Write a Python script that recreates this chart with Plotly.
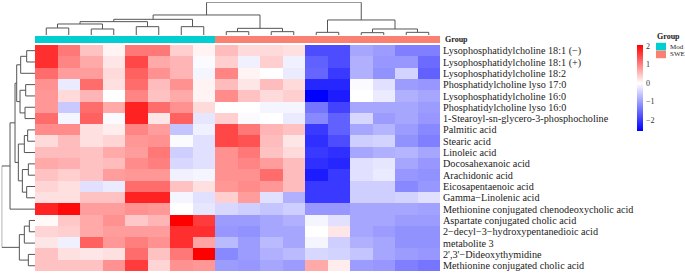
import plotly.graph_objects as go

# ---------------- data ----------------
row_labels = [
    "Lysophosphatidylcholine 18:1 (−)",
    "Lysophosphatidylcholine 18:1 (+)",
    "Lysophosphatidylcholine 18:2",
    "Phosphatidylcholine lyso 17:0",
    "Lysophosphatidylcholine 16:0",
    "Phosphatidylcholine lyso 16:0",
    "1-Stearoyl-sn-glycero-3-phosphocholine",
    "Palmitic acid",
    "Stearic acid",
    "Linoleic acid",
    "Docosahexanoic acid",
    "Arachidonic acid",
    "Eicosapentaenoic acid",
    "Gamma−Linolenic acid",
    "Methionine conjugated chenodeoxycholic acid",
    "Aspartate conjugated cholic acid",
    "2−decyl−3−hydroxypentanedioic acid",
    "metabolite 3",
    "2',3'−Dideoxythymidine",
    "Methionine conjugated cholic acid",
]

sample_groups = ["Mod"] * 8 + ["SWE"] * 10
group_names = ["Mod", "SWE"]
group_colors = ["#00CED1", "#FA8072"]

values = [
    [1.7, 1.1, 0.5, 0.1, 1.1, 1.1, 0.4, 0.1, 0.55, 0.3, 0.3, 0.25, -1.8, -1.8, -0.9, -1.0, -1.3, -1.3],
    [1.7, 1.0, 0.7, 0.2, 1.5, 0.7, 0.6, -0.05, 0.4, -0.15, 0.4, -0.15, -1.6, -1.8, -0.8, -1.05, -1.05, -1.5],
    [1.2, 0.8, 0.8, 0.3, 1.3, 0.9, 0.6, -0.1, 1.0, 0.1, 0.0, -0.2, -1.55, -2.0, -0.8, -1.1, -0.45, -1.6],
    [0.9, -0.2, 1.2, 0.25, 1.2, 0.55, 0.9, 0.1, 0.55, 0.2, 0.55, 0.3, -2.2, -2.2, -0.05, -0.3, -1.0, -1.05],
    [0.85, 0.3, 0.6, 0.0, 1.0, 0.5, 0.7, 0.1, 0.95, 0.5, 0.3, 0.4, -2.6, -2.3, 0.0, -0.2, -0.8, -0.9],
    [0.85, -0.55, 1.2, 0.7, 1.8, 1.2, 0.9, 0.3, 0.0, 0.0, -0.1, -0.1, -1.4, -1.9, -0.9, -0.9, -0.9, -1.0],
    [1.2, -0.1, 1.3, -0.05, 1.8, 0.2, 1.3, -0.25, 0.4, -0.05, 0.0, -0.2, -1.2, -1.6, -0.4, -1.0, -0.9, -1.05],
    [0.95, 0.95, 0.25, 0.15, 1.0, 0.8, -0.6, -0.15, 1.5, 1.1, 0.6, 0.5, -2.0, -1.6, -0.9, -0.75, -1.0, -1.2],
    [0.3, 0.55, 0.25, 0.35, 0.85, 0.9, -0.05, -0.3, 1.5, 1.4, 0.55, 0.2, -2.1, -1.8, -0.5, -0.45, -1.1, -1.3],
    [0.55, 0.55, 0.5, 0.7, 0.8, 1.1, -0.5, -0.3, 0.9, 1.1, 0.5, 0.3, -2.0, -2.1, -0.9, -0.8, -0.75, -0.9],
    [0.7, 0.65, 0.5, 0.55, 0.95, 1.05, -0.4, -0.3, 0.9, 1.0, 0.8, 0.55, -2.1, -2.2, -0.3, -0.25, -0.9, -1.05],
    [0.5, 0.4, 0.5, 0.8, 0.85, 0.85, -0.15, -0.1, 0.9, 0.9, 1.2, 0.55, -2.3, -2.0, -0.3, -0.2, -1.05, -1.1],
    [0.35, 0.25, -0.3, -0.2, 1.2, 1.2, 0.5, 0.25, 0.85, 0.95, 0.85, 0.55, -2.0, -2.0, -0.5, -0.5, -1.2, -1.05],
    [0.25, 0.25, 0.5, 0.5, 1.8, 1.8, -0.1, -0.3, 0.4, 0.8, -0.3, -0.8, -2.0, -2.0, -0.5, -0.5, -0.45, -0.3],
    [1.8, 2.0, 0.8, 0.8, 0.9, 0.85, 0.0, -0.25, -0.4, -0.5, -0.6, -0.5, -1.05, -1.05, -0.9, -0.9, -0.9, -0.95],
    [0.05, 0.45, 0.7, 0.9, 0.45, 0.6, 2.1, 1.6, -1.0, -1.0, -0.9, -0.8, -0.1, -0.3, -0.9, -0.9, -1.0, -1.0],
    [0.35, 0.4, 0.7, 0.8, 0.8, 0.8, 1.7, 1.7, -1.05, -1.1, -0.9, -0.9, 0.0, 0.2, -0.9, -1.0, -1.1, -1.1],
    [0.2, -0.15, 1.3, 0.85, 1.05, 0.9, 1.7, 0.75, -0.7, -1.0, -0.7, -0.9, -0.1, -0.5, -0.8, -0.9, -1.1, -1.1],
    [0.5, 0.25, 0.2, 0.25, 1.2, 0.5, 1.1, 2.1, -1.2, -1.0, -0.8, -0.7, -0.4, -0.45, -0.6, -0.9, -1.0, -1.05],
    [0.5, 0.5, 0.5, 0.9, 1.6, 0.35, 0.9, 0.85, -1.0, -1.05, -0.9, -1.0, 0.7, 0.15, -1.0, -1.05, -1.3, -1.4],
]

# hierarchical clustering merges (child_a, child_b, height); ids >= n are earlier merges
col_merges = [
    (0, 1, 21), (2, 3, 18), (18, 19, 33), (4, 5, 25), (20, 21, 40), (6, 7, 25),
    (22, 23, 47), (8, 9, 10), (10, 11, 10), (25, 26, 20), (24, 27, 60),
    (12, 13, 8), (14, 15, 7), (16, 17, 8), (30, 31, 18), (29, 32, 45), (28, 33, 98),
]
row_merges = [
    (0, 1, 25), (20, 2, 43), (3, 4, 28), (5, 6, 30), (22, 23, 45), (21, 24, 55),
    (7, 8, 22), (26, 9, 32), (10, 11, 20), (12, 13, 25), (28, 29, 38), (27, 30, 50),
    (25, 31, 60), (32, 14, 75), (15, 16, 17), (34, 17, 32), (18, 19, 20), (35, 36, 47),
    (33, 37, 100),
]

zmin, zmax = -2.58, 2.08
colorbar_ticks = [-2, -1, 0, 1, 2]

# ---------------- helpers ----------------
W, H = 685, 275
def px(x):
    return x / W
def py(y):
    return 1 - y / H

def dendro(merges, n):
    pos = {i: float(i) for i in range(n)}
    hgt = {i: 0.0 for i in range(n)}
    p, h = [], []
    for k, (a, b, hh) in enumerate(merges):
        pa, pb = pos[a], pos[b]
        p += [pa, pa, pb, pb, None]
        h += [hgt[a], hh, hh, hgt[b], None]
        pos[n + k] = (pa + pb) / 2
        hgt[n + k] = hh
    return p, h

n_rows, n_cols = len(values), len(values[0])
wpos = (0 - zmin) / (zmax - zmin)
cscale = [[0, "#0000FF"], [wpos, "#FFFFFF"], [1, "#FF0000"]]
serif = "Liberation Serif"

fig = go.Figure()

fig.add_trace(go.Heatmap(
    z=values, x=list(range(n_cols)), y=list(range(n_rows)),
    colorscale=cscale, zmin=zmin, zmax=zmax, xaxis="x", yaxis="y",
    colorbar=dict(
        x=px(636.7), xanchor="left", y=py(44.5), yanchor="top",
        len=86, lenmode="pixels", thickness=6, thicknessmode="pixels",
        xpad=0, ypad=0, outlinewidth=0, tickvals=colorbar_ticks,
        ticks="outside", ticklen=2, tickcolor="rgba(0,0,0,0)",
        tickfont=dict(family=serif, size=8, color="#333"),
    ),
))

grp_codes = [[group_names.index(g) for g in sample_groups]]
fig.add_trace(go.Heatmap(
    z=grp_codes, x=list(range(n_cols)), y=[0],
    colorscale=[[0, group_colors[0]], [0.5, group_colors[0]], [0.5, group_colors[1]], [1, group_colors[1]]],
    zmin=0, zmax=1, showscale=False, xaxis="x2", yaxis="y2",
))

cp, ch = dendro(col_merges, n_cols)
fig.add_trace(go.Scatter(x=cp, y=ch, mode="lines", line=dict(color="#555", width=1),
                         xaxis="x3", yaxis="y3", cliponaxis=False, hoverinfo="skip"))
rp, rh = dendro(row_merges, n_rows)
fig.add_trace(go.Scatter(x=rh, y=rp, mode="lines", line=dict(color="#555", width=1),
                         xaxis="x4", yaxis="y4", cliponaxis=False, hoverinfo="skip"))

hm_x = [px(35), px(440)]
hm_y = [py(271.4), py(45)]
hidden = dict(showgrid=False, zeroline=False, showticklabels=False, ticks="", showline=False)

fig.update_layout(
    width=W, height=H, margin=dict(l=0, r=0, t=0, b=0, autoexpand=False),
    paper_bgcolor="white", plot_bgcolor="white", showlegend=False,
    xaxis=dict(domain=hm_x, range=[-0.5, n_cols - 0.5], **hidden),
    yaxis=dict(domain=hm_y, range=[n_rows - 0.5, -0.5], side="right", automargin=False,
               tickvals=list(range(n_rows)), ticktext=row_labels, ticks="",
               ticklabelstandoff=2,
               showgrid=False, zeroline=False, showline=False,
               tickfont=dict(family=serif, size=10.2, color="#222")),
    xaxis2=dict(domain=hm_x, range=[-0.5, n_cols - 0.5], anchor="y2", **hidden),
    yaxis2=dict(domain=[py(43.3), py(36)], range=[-0.5, 0.5], anchor="x2", **hidden),
    xaxis3=dict(domain=hm_x, range=[-0.5, n_cols - 0.5], anchor="y3", **hidden),
    yaxis3=dict(domain=[py(35), py(2.3)], range=[0, 98], anchor="x3", **hidden),
    xaxis4=dict(domain=[px(1.7), px(35)], range=[100, 0], anchor="y4", **hidden),
    yaxis4=dict(domain=hm_y, range=[n_rows - 0.5, -0.5], anchor="x4", **hidden),
)

annots = [
    dict(x=px(443), y=py(39.7), text="<b>Group</b>", font=dict(family=serif, size=8, color="#222")),
    dict(x=px(655), y=py(37), text="<b>Group</b>", font=dict(family=serif, size=8, color="#222")),
]
for i, name in enumerate(group_names):
    y0 = 42.8 + i * 7.8
    fig.add_shape(type="rect", xref="paper", yref="paper", x0=px(656), x1=px(666),
                  y0=py(y0 + 7.6), y1=py(y0), fillcolor=group_colors[i], line=dict(width=0))
    annots.append(dict(x=px(667.5), y=py(y0 + 3.8), text=name,
                       font=dict(family=serif, size=7, color="#222")))
for a in annots:
    fig.add_annotation(xref="paper", yref="paper", xanchor="left", yanchor="middle",
                       showarrow=False, **a)

fig.write_html("out.html", config={"displayModeBar": False},
               post_script="document.body.style.margin='0';document.body.style.overflow='hidden';")
